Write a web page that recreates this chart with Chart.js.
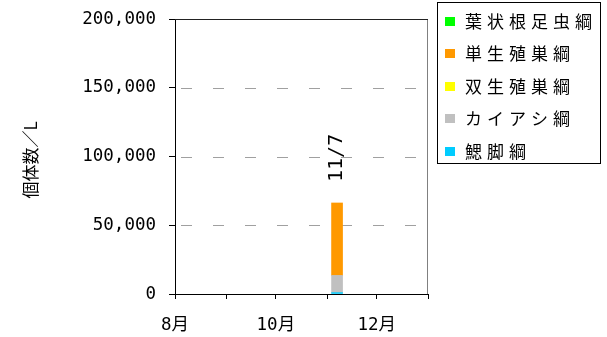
<!DOCTYPE html>
<html>
<head>
<meta charset="utf-8">
<script src="https://cdn.jsdelivr.net/npm/chart.js@4/dist/chart.umd.min.js"></script>
<style>
  html, body { margin: 0; padding: 0; background: #fff; }
  #chart { display: block; }
</style>
</head>
<body>
<canvas id="chart" width="607" height="337"></canvas>
<script>
// Sampling dates (month/day) and per-class densities (individuals per litre)
const sampleDates = ['11/7'];
const seriesNames = ['鰓脚綱', 'カイアシ綱', '双生殖巣綱', '単生殖巣綱', '葉状根足虫綱'];
const branchiopoda = [1000];     // 鰓脚綱
const copepoda = [12500];        // カイアシ綱
const digononta = [0];           // 双生殖巣綱
const monogononta = [52700];     // 単生殖巣綱
const lobosea = [0];             // 葉状根足虫綱
const seriesColors = ['#00ccff', '#c0c0c0', '#ffff00', '#ff9900', '#00ff00'];

// Month axis: tick values are day offsets from 1 August
const monthStartDays = { 8: 0, 9: 31, 10: 61, 11: 92, 12: 122, 1: 153 };
const xTickDays = [0, 31, 61, 92, 122, 153];
const xTickLabels = ['8月', '', '10月', '', '12月', ''];
const yTicks = [0, 50000, 100000, 150000, 200000];

const dayOffset = s => {
  const [m, d] = s.split('/').map(Number);
  return monthStartDays[m] + d - 1;
};
const xs = sampleDates.map(dayOffset);
const toPoints = vals => vals.map((v, i) => ({ x: xs[i], y: v }));

const seriesValues = [branchiopoda, copepoda, digononta, monogononta, lobosea];
const datasets = seriesNames.map((name, i) => ({
  label: name,
  data: toPoints(seriesValues[i]),
  backgroundColor: seriesColors[i],
  borderWidth: 0,
  barThickness: 11,
  // empty segments stay invisible instead of leaving a hairline
  inflateAmount: c => (c.raw && c.raw.y === 0 ? 0 : 0.33)
}));

const NUM_FONT = '"DejaVu Sans Mono", "Noto Sans CJK JP", monospace';
const JP_FONT = '"Noto Sans CJK JP", sans-serif';

// Dashed horizontal gridlines plus the top and right frame of the plot
const frameAndGrid = {
  id: 'frameAndGrid',
  beforeDatasetsDraw(chart) {
    const { ctx, chartArea: a, scales: { y } } = chart;
    ctx.save();
    ctx.lineWidth = 1;
    ctx.strokeStyle = '#a0a0a0';
    ctx.setLineDash([11, 21]);
    ctx.lineDashOffset = -6;
    yTicks.slice(1, -1).forEach(v => {
      const py = Math.round(y.getPixelForValue(v)) + 0.5;
      ctx.beginPath();
      ctx.moveTo(a.left, py);
      ctx.lineTo(a.right, py);
      ctx.stroke();
    });
    ctx.setLineDash([]);
    const top = Math.round(y.getPixelForValue(yTicks[yTicks.length - 1])) + 0.5;
    ctx.strokeStyle = '#808080';
    ctx.beginPath();
    ctx.moveTo(a.right - 0.5, top);
    ctx.lineTo(a.right - 0.5, a.bottom);
    ctx.stroke();
    ctx.strokeStyle = '#222';
    ctx.beginPath();
    ctx.moveTo(a.left, top);
    ctx.lineTo(a.right, top);
    ctx.stroke();
    ctx.restore();
  }
};

// Date label written vertically above each stacked bar
const dateLabels = {
  id: 'dateLabels',
  afterDatasetsDraw(chart) {
    const { ctx, scales: { x, y } } = chart;
    ctx.save();
    ctx.font = '20px ' + NUM_FONT;
    ctx.fillStyle = '#000';
    ctx.textAlign = 'left';
    ctx.textBaseline = 'middle';
    sampleDates.forEach((d, i) => {
      const total = seriesValues.reduce((s, arr) => s + arr[i], 0);
      const px = x.getPixelForValue(xs[i]);
      const py = y.getPixelForValue(total) - 21;
      ctx.save();
      ctx.translate(px, py);
      ctx.rotate(-Math.PI / 2);
      ctx.fillText(d, 0, 0);
      ctx.restore();
    });
    ctx.restore();
  }
};

// Y-axis title and boxed legend (top entry = top of the stack)
const titleAndLegend = {
  id: 'titleAndLegend',
  afterDraw(chart) {
    const { ctx } = chart;
    ctx.save();
    ctx.fillStyle = '#000';
    ctx.font = '17px ' + JP_FONT;
    ctx.textAlign = 'center';
    ctx.textBaseline = 'middle';
    ctx.translate(31, 160);
    ctx.rotate(-Math.PI / 2);
    ctx.fillText('個体数／L', 0, 0);
    ctx.restore();

    ctx.save();
    ctx.strokeStyle = '#000';
    ctx.lineWidth = 1;
    ctx.strokeRect(437.5, 2.5, 163, 161);
    const items = chart.data.datasets.slice().reverse();
    ctx.font = '17px ' + JP_FONT;
    ctx.textAlign = 'left';
    ctx.textBaseline = 'middle';
    ctx.letterSpacing = '5px';
    items.forEach((ds, i) => {
      const cy = 21.5 + i * 32.4;
      ctx.fillStyle = ds.backgroundColor;
      ctx.fillRect(445, Math.round(cy - 4.5), 10, 9);
      ctx.fillStyle = '#000';
      ctx.fillText(ds.label, 465, cy);
    });
    ctx.restore();
  }
};

new Chart(document.getElementById('chart'), {
  type: 'bar',
  data: { datasets },
  options: {
    responsive: false,
    devicePixelRatio: 1,
    animation: false,
    layout: { padding: { left: 0, top: 19, right: 179, bottom: 0 } },
    plugins: { legend: { display: false }, tooltip: { enabled: false } },
    scales: {
      x: {
        type: 'linear',
        stacked: true,
        offset: false,
        min: xTickDays[0],
        max: xTickDays[xTickDays.length - 1],
        afterBuildTicks: axis => { axis.ticks = xTickDays.map(v => ({ value: v })); },
        afterFit: axis => { axis.height = 43; axis.paddingLeft = 0; axis.paddingRight = 0; },
        grid: { offset: false, drawOnChartArea: false, drawTicks: true, tickLength: 5, tickColor: '#000' },
        border: { display: true, color: '#000', width: 1 },
        ticks: {
          autoSkip: false,
          maxRotation: 0,
          padding: 16,
          color: '#000',
          font: { family: NUM_FONT, size: 17.5 },
          callback: v => xTickLabels[xTickDays.indexOf(v)] ?? ''
        }
      },
      y: {
        stacked: true,
        min: yTicks[0],
        max: yTicks[yTicks.length - 1],
        afterBuildTicks: axis => { axis.ticks = yTicks.map(v => ({ value: v })); },
        afterFit: axis => { axis.width = 175; axis.paddingTop = 0; axis.paddingBottom = 0; },
        grid: { drawOnChartArea: false, drawTicks: true, tickLength: 6, tickColor: '#000' },
        border: { display: true, color: '#000', width: 1 },
        ticks: {
          padding: 13,
          color: '#000',
          font: { family: NUM_FONT, size: 17.5 },
          callback: v => v.toLocaleString('en-US')
        }
      }
    }
  },
  plugins: [frameAndGrid, dateLabels, titleAndLegend]
});
</script>
</body>
</html>
